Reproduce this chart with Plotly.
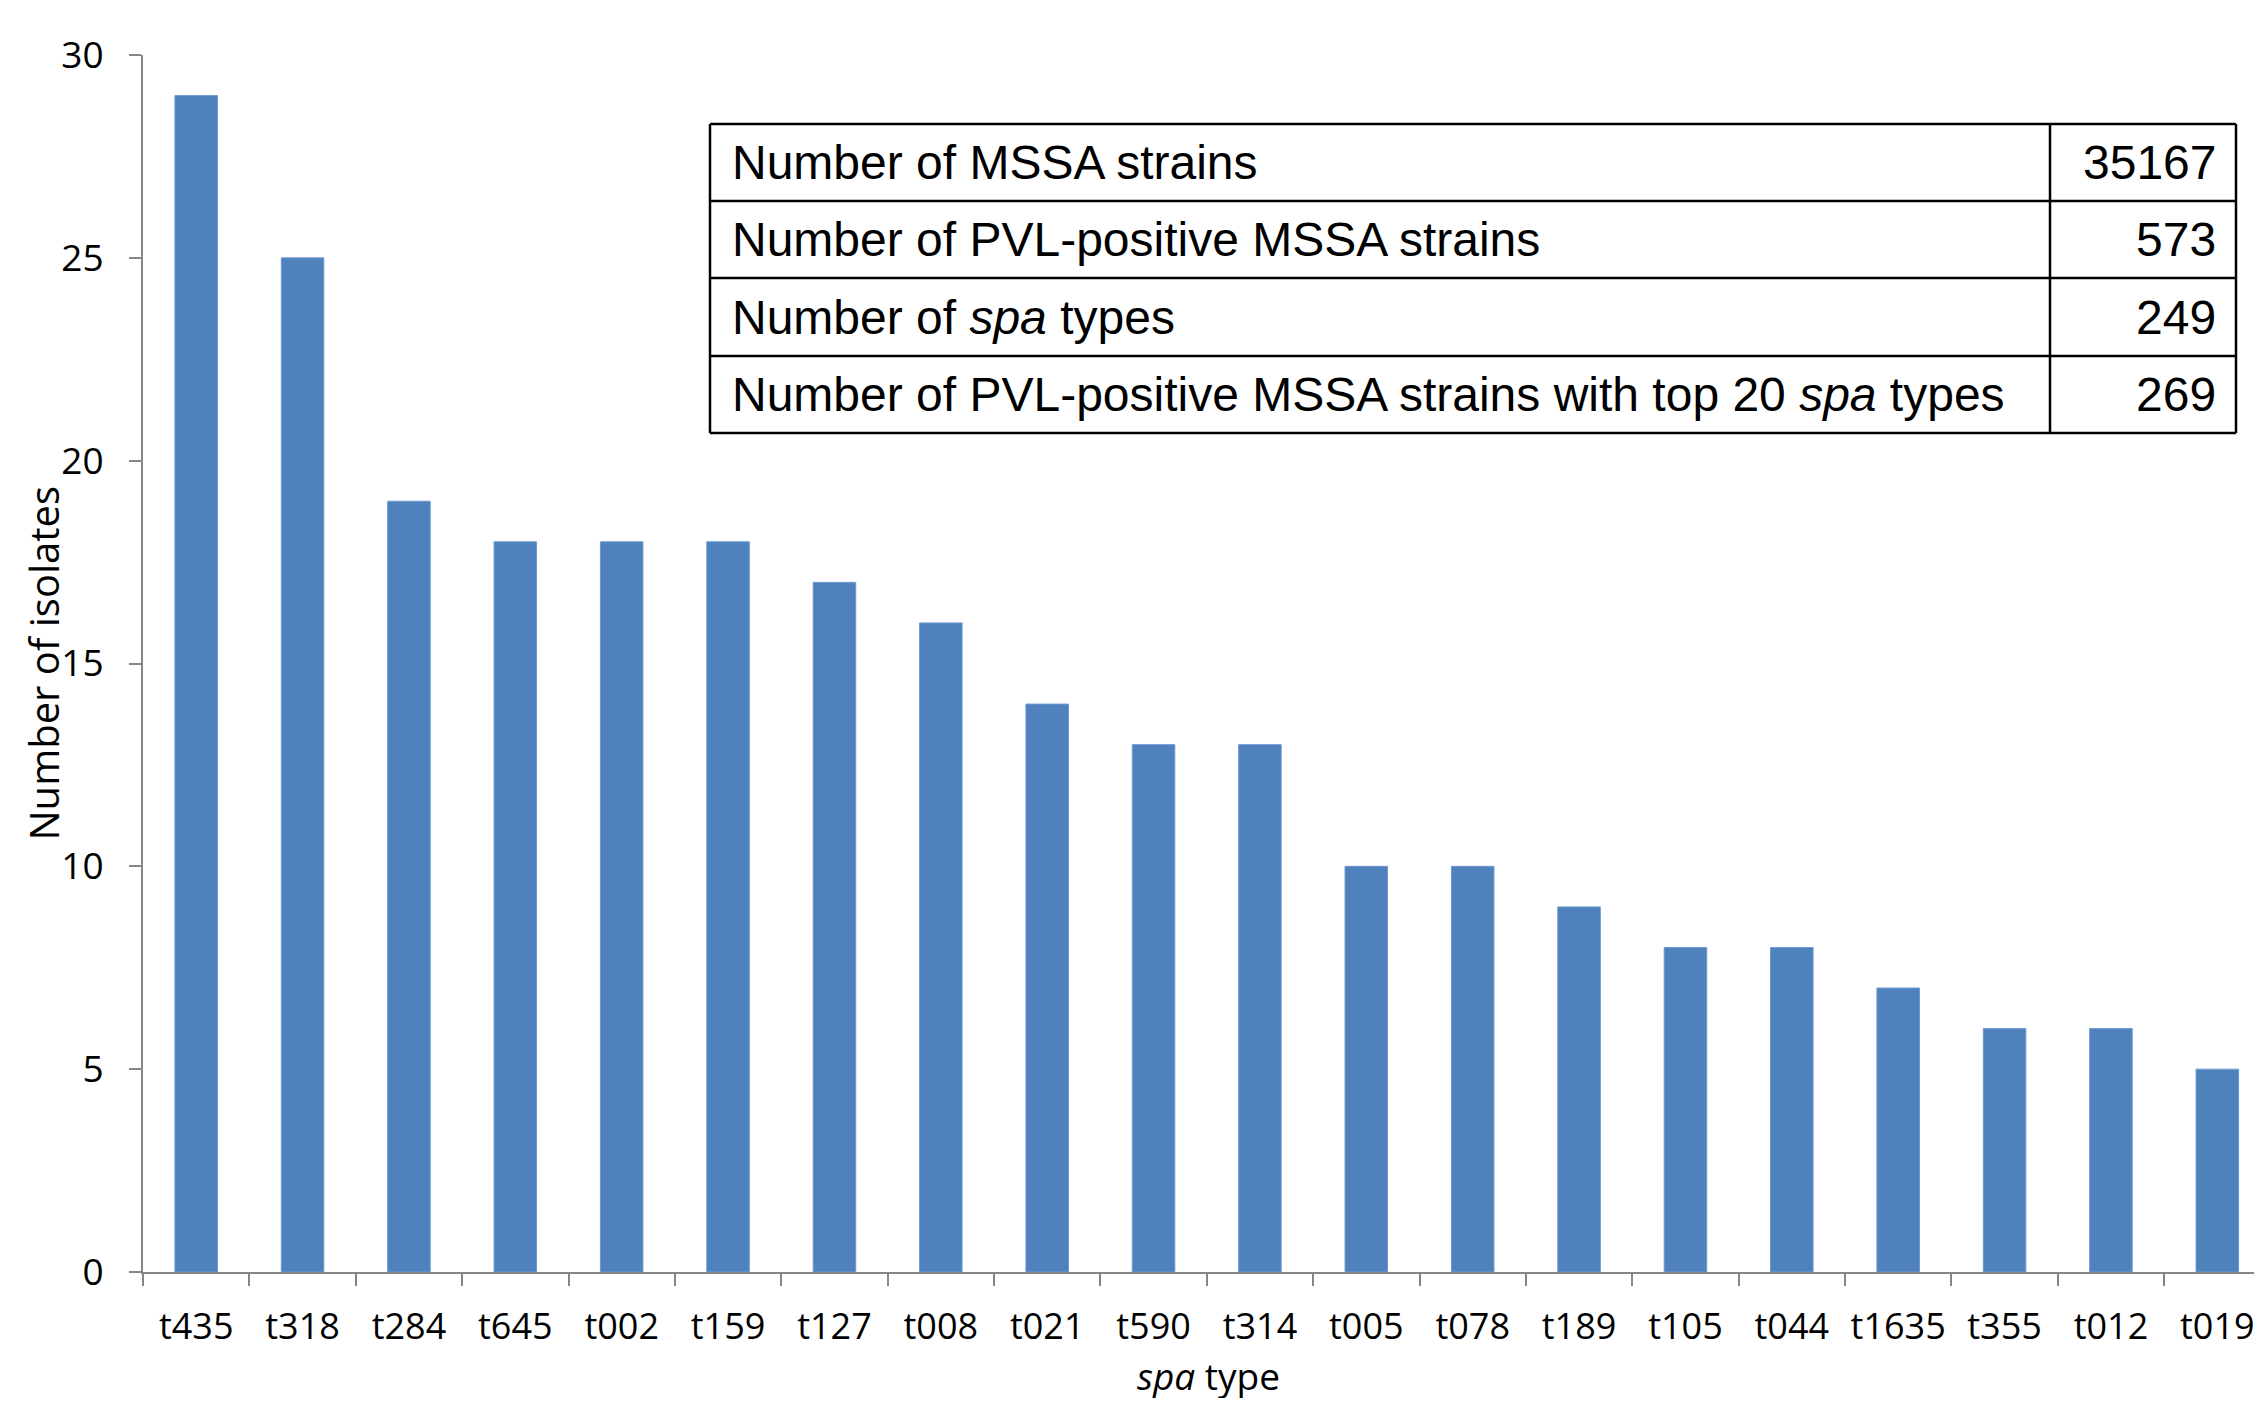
import plotly.graph_objects as go

spa_types = ["t435", "t318", "t284", "t645", "t002", "t159", "t127", "t008", "t021", "t590",
             "t314", "t005", "t078", "t189", "t105", "t044", "t1635", "t355", "t012", "t019"]
isolates = [29, 25, 19, 18, 18, 18, 17, 16, 14, 13, 13, 10, 10, 9, 8, 8, 7, 6, 6, 5]

table_labels = ["Number of MSSA strains",
                "Number of PVL-positive MSSA strains",
                "Number of <i>spa</i> types",
                "Number of PVL-positive MSSA strains with top 20 <i>spa</i> types"]
table_values = ["35167", "573", "249", "269"]

y_ticks = [0, 5, 10, 15, 20, 25, 30]

OFF = 8  # page body margin
W, H = 2262 - OFF, 1406 - 2 * OFF
L, R, T = 143 - OFF, 0, 55 - OFF
B = H - (1272 - OFF)

fig = go.Figure()
fig.add_trace(go.Bar(
    x=spa_types, y=isolates,
    marker=dict(color="#4F81BD", line=dict(color="#6f9ad0", width=1)),
    width=0.4,
))

axis_color = "#868686"
tick_font = dict(family="Open Sans", size=36, color="#000000")

fig.update_layout(
    width=W, height=H,
    margin=dict(l=L, r=R, t=T, b=B, pad=0, autoexpand=False),
    plot_bgcolor="white", paper_bgcolor="white",
    showlegend=False,
    xaxis=dict(
        type="category",
        categoryorder="array", categoryarray=spa_types,
        range=[-0.5, 19.42],
        automargin=False,
        tickangle=0,
        showline=True, linecolor=axis_color, linewidth=2,
        ticks="outside", ticklen=12, tickcolor=axis_color, tickwidth=2,
        tickson="boundaries",
        showgrid=False, zeroline=False,
        tickfont=tick_font,
        ticklabelstandoff=22,
        ticklabeloverflow="allow",
    ),
    yaxis=dict(
        range=[0, 30],
        automargin=False,
        tickmode="array", tickvals=y_ticks,
        showline=True, linecolor=axis_color, linewidth=2,
        ticks="outside", ticklen=12, tickcolor=axis_color, tickwidth=2,
        showgrid=False, zeroline=False,
        tickfont=dict(family="Open Sans", size=37, color="#000000"),
        ticklabelstandoff=18,
    ),
)

# pixel (screen) -> paper conversion
def px(xp):
    return (xp - OFF - L) / (W - L - R)

def py(yp):
    return (H - B - (yp - OFF)) / (H - T - B)

# axis titles
fig.add_annotation(text="<i>spa</i> type", xref="paper", yref="paper",
                   x=px(1208), y=py(1375),
                   xanchor="center", yanchor="middle", showarrow=False,
                   font=dict(family="Open Sans", size=37, color="#000000"))
fig.add_annotation(text="Number of isolates", xref="paper", yref="paper",
                   x=px(43), y=0.5, textangle=-90,
                   xanchor="center", yanchor="middle", showarrow=False,
                   font=dict(family="Open Sans", size=40, color="#000000"))

# inset table
tx0, tx1, tdiv = 710, 2236, 2050
row_edges = [124, 201, 278, 356, 433]
line_style = dict(color="#000000", width=2.5)
for ye in row_edges:
    fig.add_shape(type="line", xref="paper", yref="paper",
                  x0=px(tx0), x1=px(tx1), y0=py(ye), y1=py(ye), line=line_style)
for xe in [tx0, tdiv, tx1]:
    fig.add_shape(type="line", xref="paper", yref="paper",
                  x0=px(xe), x1=px(xe), y0=py(row_edges[0]), y1=py(row_edges[-1]), line=line_style)

tbl_font = dict(family="Liberation Sans, Arial", size=48, color="#000000")
for i, (lab, val) in enumerate(zip(table_labels, table_values)):
    yc = (row_edges[i] + row_edges[i + 1]) / 2
    fig.add_annotation(text=lab, xref="paper", yref="paper", x=px(tx0 + 20), y=py(yc),
                       xanchor="left", yanchor="middle", showarrow=False, font=tbl_font)
    fig.add_annotation(text=val, xref="paper", yref="paper", x=px(tx1 - 18), y=py(yc),
                       xanchor="right", yanchor="middle", showarrow=False, font=tbl_font)

fig.write_html("out.html")
